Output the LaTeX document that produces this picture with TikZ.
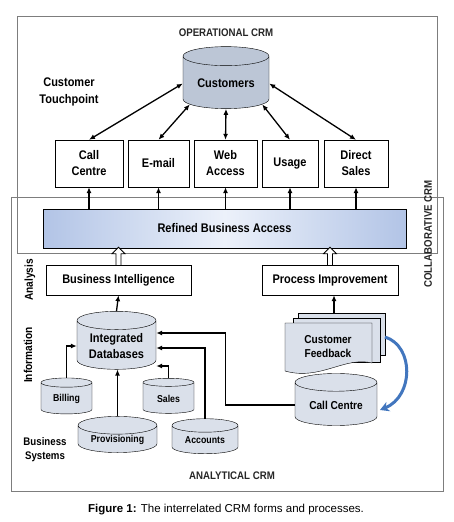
\documentclass[tikz,border=0pt]{standalone}
\usepackage{fontspec}
\setmainfont{Liberation Sans}
\newfontfamily\diagfont{Liberation Sans}[FakeStretch=0.88]
\usepackage{tikz}
\usepackage{xcolor}
\usetikzlibrary{positioning, arrows.meta, shapes.geometric, calc}
\definecolor{crmframe}{RGB}{125, 125, 125}
\definecolor{crmcust}{RGB}{188, 198, 214}
\definecolor{crmdb}{RGB}{218, 224, 234}
\definecolor{crmblue}{RGB}{178, 196, 230}
\definecolor{crmpale}{RGB}{236, 241, 250}
\definecolor{crmloop}{RGB}{66, 118, 190}
\tikzset{
    frame/.style={draw=crmframe, line width=1pt},
    tpbox/.style={draw, fill=white, align=center, inner sep=1pt, font=\diagfont\bfseries\fontsize{12.5}{16}\selectfont},
    crmcyl/.style={cylinder, shape border rotate=90, draw, fill=crmdb, aspect=0.32, align=center, inner sep=1pt, font=\diagfont\bfseries\fontsize{10}{12}\selectfont},
    head/.style={font=\diagfont\bfseries\fontsize{11}{13}\selectfont, text=black!85},
    side/.style={align=center, font=\diagfont\bfseries\fontsize{11.5}{14}\selectfont},
    link/.style={line width=1.3pt, -{Latex[length=6pt, width=5pt]}},
    twoway/.style={line width=1.3pt, {Latex[length=6pt, width=5pt]}-{Latex[length=6pt, width=5pt]}},
    hollow/.style={draw, fill=white, line width=0.8pt, line join=miter},
    doc/.style={draw, fill=crmdb}
}
\begin{document}
\begin{tikzpicture}[x=1pt, y=-1pt]
    \useasboundingbox (0,0) rectangle (454,522);
    \draw[frame] (11,197) rectangle (443,491);
    \draw[frame] (17,16) rectangle (437,253);

    \node[head] (opcrm) at (226,33) {OPERATIONAL CRM};
    \node[head] (ancrm) at (232,476) {ANALYTICAL CRM};
    \node[head, rotate=90] (colcrm) at (428,234) {COLLABORATIVE CRM};
    \node[side, font=\diagfont\bfseries\fontsize{12.5}{17}\selectfont] (touch) at (69,92) {Customer\\Touchpoint};
    \node[side, rotate=90] (analysis) at (30,280) {Analysis};
    \node[side, rotate=90] (info) at (28,355) {Information};
    \node[side, font=\diagfont\bfseries\fontsize{11}{14}\selectfont] (bsys) at (45,450) {Business\\Systems};

    \node[crmcyl, fill=crmcust, minimum width=86pt, minimum height=62pt, font=\diagfont\bfseries\fontsize{12.5}{15}\selectfont] (cust) at (226,83.5) {Customers};

    \node[tpbox, minimum width=68pt, minimum height=47pt] (tcall) at (89,163.5) {Call\\Centre};
    \node[tpbox, minimum width=61pt, minimum height=47pt] (tmail) at (158.5,163.5) {E-mail};
    \node[tpbox, minimum width=63pt, minimum height=47pt] (tweb) at (225.5,163.5) {Web\\Access};
    \node[tpbox, minimum width=56pt, minimum height=47pt] (tuse) at (290,163.5) {Usage};
    \node[tpbox, minimum width=64pt, minimum height=47pt] (tsales) at (356,163.5) {Direct\\Sales};

    \node[tpbox, minimum width=363pt, minimum height=39pt, left color=crmblue, right color=crmblue, middle color=crmpale] (rba) at (224.5,228.5) {Refined Business Access};

    \node[tpbox, minimum width=145pt, minimum height=30pt] (bi) at (118.5,280) {Business Intelligence};
    \node[tpbox, minimum width=136pt, minimum height=30pt] (pi) at (330,280) {Process Improvement};

    \node[crmcyl, minimum width=79pt, minimum height=58pt, font=\diagfont\bfseries\fontsize{12.5}{16}\selectfont] (idb) at (116.5,346) {Integrated\\Databases};
    \node[crmcyl, minimum width=51pt, minimum height=36pt] (bill) at (66.5,399) {Billing};
    \node[crmcyl, minimum width=51pt, minimum height=35pt] (sales) at (168.5,398.5) {Sales};
    \node[crmcyl, minimum width=79pt, minimum height=34pt] (prov) at (117.5,440) {Provisioning};
    \node[crmcyl, minimum width=66pt, minimum height=35pt] (acc) at (205,440.5) {Accounts};
    \node[crmcyl, minimum width=82pt, minimum height=52pt, font=\diagfont\bfseries\fontsize{11.5}{14}\selectfont] (ccdb) at (336,405) {Call Centre};

    \draw[doc] (298,313) rectangle (385,355);
    \draw[doc] (293,318) rectangle (380,362);
    \draw[doc] (285,323) -- (372,323) -- (372,363) .. controls (345,356) and (320,381) .. (285,371) -- cycle;
    \node[side, font=\diagfont\bfseries\fontsize{11.5}{14}\selectfont] (fb) at (328,347) {Customer\\Feedback};
    \coordinate (fbtop) at (334,313);
    \coordinate (fbside) at (385,337);
    \coordinate (ccside) at (380,410);

    \draw[twoway] (tcall.north) -- (cust.west);
    \draw[twoway] (tmail.north) -- (cust.210);
    \draw[twoway] (tweb.north) -- (cust.south);
    \draw[twoway] (tuse.north) -- (cust.330);
    \draw[twoway] (tsales.north) -- (cust.east);

    \foreach \t in {tcall, tmail, tweb, tuse, tsales}
        \draw[link] (\t.south |- rba.north) -- (\t.south);

    \foreach \b in {bi, pi}
        \draw[hollow] ([xshift=-2.5pt]\b.north) -- ++(0,-11) -- ++(-4,0) -- ++(6.5,-6.5)
            -- ++(6.5,6.5) -- ++(-4,0) -- ++(0,11);

    \draw[link] (idb.north) -- (bi.south);
    \draw[link] (fbtop) -- (fbtop |- pi.south);
    \draw[link] (bill.north) |- (idb.west);
    \draw[link] (prov.north) -- (prov.north |- idb.south);
    \draw[link] (sales.north) |- ($(idb.east)+(0,20)$);
    \draw[link] (acc.north) |- ($(idb.east)+(0,2)$);
    \draw[link] (ccdb.west) -- ++(-69,0) |- ($(idb.east)+(0,-13)$);
    \draw[crmloop, line width=3pt, -{Stealth[length=9pt, width=10pt]}] (fbside) .. controls (414,346) and (414,396) .. (ccside);

    \node[font=\fontsize{11.5}{13}\selectfont] (caption) at (226,510) {\textbf{Figure 1:} The interrelated CRM forms and processes.};
\end{tikzpicture}
\end{document}
